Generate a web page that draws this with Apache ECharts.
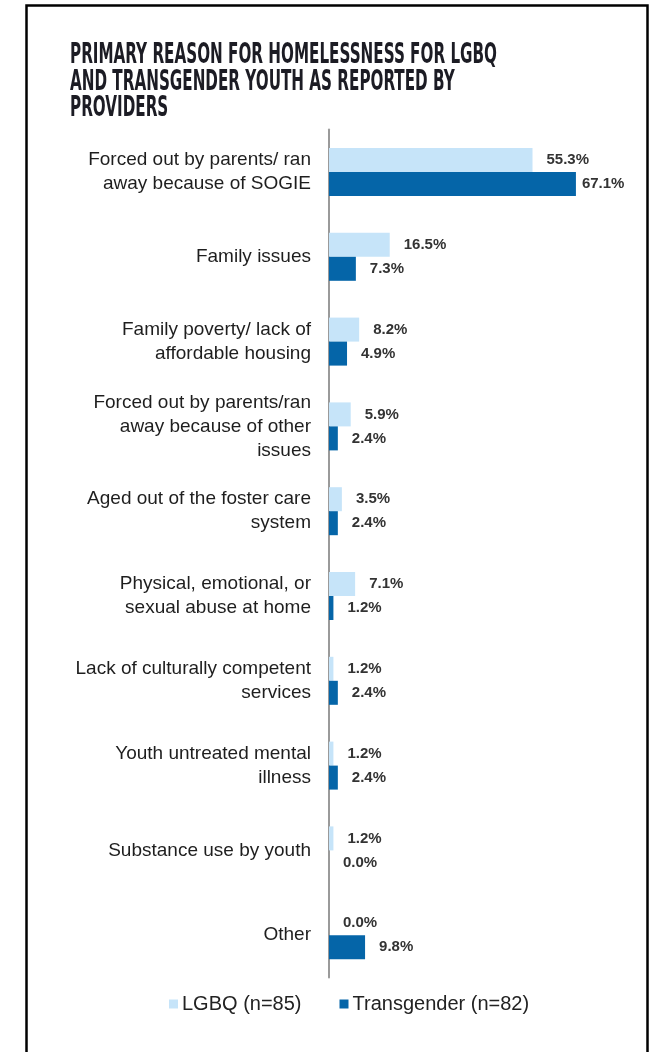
<!DOCTYPE html>
<html>
<head>
<meta charset="utf-8">
<script src="https://cdn.jsdelivr.net/npm/echarts@6/dist/echarts.min.js"></script>
<style>
html,body{margin:0;padding:0;background:#fff;}
#chart{width:659px;height:1052px;}
</style>
</head>
<body>
<div id="chart"></div>
<script>
const titleLines = ['PRIMARY REASON FOR HOMELESSNESS FOR LGBQ', 'AND TRANSGENDER YOUTH AS REPORTED BY', 'PROVIDERS'];
const categories = [
  'Forced out by parents/ ran\naway because of SOGIE',
  'Family issues',
  'Family poverty/ lack of\naffordable housing',
  'Forced out by parents/ran\naway because of other\nissues',
  'Aged out of the foster care\nsystem',
  'Physical, emotional, or\nsexual abuse at home',
  'Lack of culturally competent\nservices',
  'Youth untreated mental\nillness',
  'Substance use by youth',
  'Other'
];
const seriesNames = ['LGBQ (n=85)', 'Transgender (n=82)'];
const lgbq = [55.3, 16.5, 8.2, 5.9, 3.5, 7.1, 1.2, 1.2, 1.2, 0.0];
const transgender = [67.1, 7.3, 4.9, 2.4, 2.4, 1.2, 2.4, 2.4, 0.0, 9.8];

const chart = echarts.init(document.getElementById('chart'), null, {renderer: 'canvas'});

const titleFont = "bold 26px 'Liberation Sans Narrow', 'DejaVu Sans Condensed', 'Liberation Sans', sans-serif";
const cv = document.createElement('canvas').getContext('2d');
cv.font = titleFont;
const titleScale = 427 / cv.measureText(titleLines[0]).width;

const labelStyle = {
  show: true,
  position: 'right',
  distance: 14,
  color: '#333',
  fontWeight: 'bold',
  fontSize: 15,
  fontFamily: "'Liberation Sans', Arial, sans-serif",
  formatter: p => p.value.toFixed(1) + '%'
};

const transData = transgender.map((v, i) => i === 0 ? {value: v, label: {distance: 6}} : v);

chart.setOption({
  animation: false,
  backgroundColor: '#fff',
  graphic: [
    {
      type: 'rect',
      shape: {x: 26.5, y: 5.5, width: 621, height: 1100},
      style: {fill: 'none', stroke: '#000', lineWidth: 2.5},
      silent: true
    },
    {
      type: 'text',
      x: 70, y: 43,
      scaleX: titleScale, scaleY: 1.06,
      style: {
        text: titleLines.join('\n'),
        font: titleFont,
        fill: '#1c1c24',
        lineHeight: 25,
        verticalAlign: 'top',
        align: 'left'
      }
    }
  ],
  legend: {
    data: seriesNames,
    left: 164,
    top: 989,
    itemWidth: 9,
    itemHeight: 9,
    itemGap: 38,
    icon: 'rect',
    textStyle: {
      fontSize: 20,
      color: '#222',
      fontFamily: "'Liberation Sans', Arial, sans-serif",
      padding: [5, 0, 0, -1]
    }
  },
  grid: {left: 329, top: 129.6, width: 294.4, height: 848, containLabel: false},
  xAxis: {
    type: 'value', min: 0, max: 80,
    show: false
  },
  yAxis: {
    type: 'category',
    data: categories,
    inverse: true,
    axisLine: {show: true, lineStyle: {color: '#9a9a9a', width: 2}},
    axisTick: {show: false},
    axisLabel: {
      margin: 18,
      fontSize: 19,
      lineHeight: 24,
      color: '#1e1e1e',
      fontFamily: "'Liberation Sans', Arial, sans-serif"
    },
    splitLine: {show: false}
  },
  series: [
    {
      name: seriesNames[0], type: 'bar', data: lgbq,
      barWidth: 24, barGap: '0%',
      itemStyle: {color: '#c6e4f9'},
      label: labelStyle,
      z: 1
    },
    {
      name: seriesNames[1], type: 'bar', data: transData,
      barWidth: 24,
      itemStyle: {color: '#0565a8'},
      label: labelStyle,
      z: 1
    }
  ]
});
</script>
</body>
</html>
